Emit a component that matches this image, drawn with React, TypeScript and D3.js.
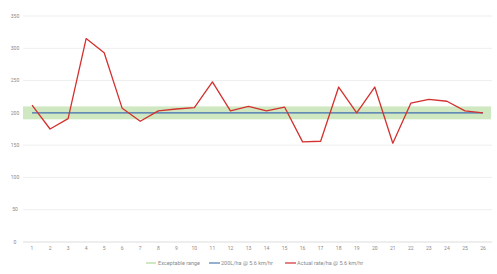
import React from "react";
import * as d3 from "d3";

const categories = ["1","2","3","4","5","6","7","8","9","10","11","12","13","14","15","16","17","18","19","20","21","22","23","24","25","26"];
const actualRate = [212, 175, 191, 315, 293, 207, 187, 203, 206, 208, 248, 203, 210, 203, 209, 155, 156, 240, 200, 240, 153, 215, 221, 218, 203, 200];
const targetRate = [200, 200, 200, 200, 200, 200, 200, 200, 200, 200, 200, 200, 200, 200, 200, 200, 200, 200, 200, 200, 200, 200, 200, 200, 200, 200];
const rangeLow = 190;
const rangeHigh = 210;
const yTicks = [0, 50, 100, 150, 200, 250, 300, 350];
const legendLabels = ["Exceptable range", "200L/ha @ 5.6 km/hr", "Actual rate/ha @ 5.6 km/hr"];

export default function App() {
  const W = 497, H = 274;
  const x = d3.scaleBand<string>().domain(categories).range([23, 492]);
  const y = d3.scaleLinear().domain([0, 350]).range([242, 16]);
  const cx = (c: string) => (x(c) as number) + x.bandwidth() / 2;
  const line = d3.line<number>().x((_, i) => cx(categories[i])).y((v) => y(v));
  const font = "Roboto, 'Open Sans', sans-serif";
  const grey = "#8a8a8a";
  const band = "#cfe8c1";
  return (
    <svg width={W} height={H} style={{ position: "absolute", left: 0, top: 0 }}>
      <rect width={W} height={H} fill="#fff" />
      {yTicks.map((t) => (
        <g key={t}>
          <line x1={23} x2={492} y1={y(t)} y2={y(t)} stroke={t === 0 ? "#ddd" : "#eee"} strokeWidth={1} />
          <text x={15} y={y(t)} dy="0.35em" fontSize={5} fill={grey} textAnchor="middle" fontFamily={font}>{t}</text>
        </g>
      ))}
      {categories.map((c) => (
        <text key={c} x={cx(c)} y={248} dy="0.35em" fontSize={5} fill={grey} textAnchor="middle" fontFamily={font}>{c}</text>
      ))}
      <rect x={23} width={468} y={y(rangeHigh)} height={y(rangeLow) - y(rangeHigh)} fill={band} />
      <path d={line(targetRate) || ""} fill="none" stroke="#3f6db0" strokeWidth={1.1} />
      <path d={line(actualRate) || ""} fill="none" stroke="#d3302e" strokeWidth={1.3} strokeLinejoin="round" />
      <g fontFamily={font} fontSize={5.5} fill={grey}>
        <rect x={146} y={262} width={10} height={2} fill={band} />
        <text x={158} y={263} dy="0.35em">{legendLabels[0]}</text>
        <line x1={209} x2={220} y1={263} y2={263} stroke="#3f6db0" strokeWidth={1.1} />
        <text x={221} y={263} dy="0.35em">{legendLabels[1]}</text>
        <line x1={285} x2={296} y1={263} y2={263} stroke="#d3302e" strokeWidth={1.2} />
        <text x={297} y={263} dy="0.35em">{legendLabels[2]}</text>
      </g>
    </svg>
  );
}
